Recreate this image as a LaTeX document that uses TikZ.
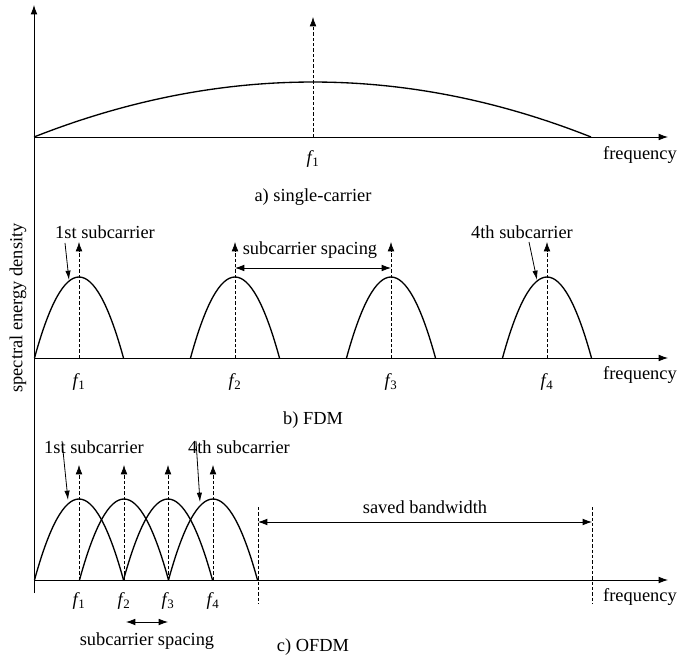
\documentclass[tikz,border=0pt]{standalone}
\usepackage{fontspec}
\setmainfont{Liberation Serif}
\usetikzlibrary{arrows.meta}
\newcommand\humpcurve[2]{\draw[curve] (#1,#2) .. controls ({#1+29.7},{#2-108}) and ({#1+59.3},{#2-108}) .. ({#1+89},#2);}
\newcommand\fl[1]{\textit{f}\kern-1.2pt\textsubscript{#1}}
\begin{document}
\begin{tikzpicture}[x=0.75pt,y=-0.75pt,
  axis/.style={line width=0.6pt,-{Latex[length=7pt,width=5pt]}},
  curve/.style={line width=1pt},
  carrier/.style={dashed,line width=0.5pt,dash pattern=on 2.5pt off 1.5pt,-{Latex[length=7pt,width=5pt]}},
  vline/.style={dashed,line width=0.5pt,dash pattern=on 2.5pt off 1.5pt},
  span/.style={line width=0.6pt,{Latex[length=7pt,width=5pt]}-{Latex[length=7pt,width=5pt]}},
  pointer/.style={line width=0.6pt,-{Latex[length=7pt,width=4pt]}},
  lbl/.style={inner sep=0pt,font=\fontsize{13.8}{16}\selectfont}]
\useasboundingbox (0,0) rectangle (678,655);
% vertical axis
\coordinate (vb) at (34,593);
\coordinate (vt) at (34,5);
\draw[axis] (vb) -- (vt);
\node[lbl,rotate=90] (ylab) at (18,308) {spectral energy density};
% ---------- a) single carrier
\coordinate (a0) at (34,137);
\coordinate (a1) at (668,137);
\draw[axis] (a0) -- (a1);
\draw[curve] (34,137) .. controls (220,63.7) and (406,63.7) .. (591,137);
\coordinate (af1) at (313,137);
\coordinate (af1t) at (313,17);
\draw[carrier] (af1) -- (af1t);
\node[lbl] (fa1) at (313,159) {\fl{1}};
\node[lbl] (freqa) at (640,155) {frequency};
\node[lbl] (capa) at (313,197) {a) single-carrier};
% ---------- b) FDM
\coordinate (b0) at (34,358);
\coordinate (b1) at (668,358);
\draw[axis] (b0) -- (b1);
\foreach \c/\n in {79/1,235/2,391/3,547/4}{
  \humpcurve{\c-44.5}{358}
  \coordinate (bf\n) at (\c,358);
  \coordinate (bt\n) at (\c,242);
  \draw[carrier] (bf\n) -- (bt\n);
  \node[lbl] (fb\n) at (\c,382) {\fl{\n}};
}
\node[lbl] (freqb) at (640,375) {frequency};
\node[lbl] (capb) at (313,420) {b) FDM};
\node[lbl] (b1st) at (105,232) {1st subcarrier};
\coordinate (b1p) at (69,280);
\draw[pointer] (65,243) -- (b1p);
\node[lbl] (b4th) at (522,232) {4th subcarrier};
\coordinate (b4p) at (537,280);
\draw[pointer] (529,242) -- (b4p);
\node[lbl] (bspc) at (310,250) {subcarrier spacing};
\coordinate (bs1) at (235,268);
\coordinate (bs2) at (391,268);
\draw[span] (bs1) -- (bs2);
% ---------- c) OFDM
\coordinate (c0) at (34,580);
\coordinate (c1) at (668,580);
\draw[axis] (c0) -- (c1);
\foreach \c/\n in {79/1,124/2,168/3,213/4}{
  \humpcurve{\c-44.5}{580}
  \coordinate (cf\n) at (\c,580);
  \coordinate (ct\n) at (\c,465);
  \draw[carrier] (cf\n) -- (ct\n);
  \node[lbl] (fc\n) at (\c,601) {\fl{\n}};
}
\coordinate (sv1t) at (258,507);
\coordinate (sv1b) at (258,604);
\coordinate (sv2t) at (592,507);
\coordinate (sv2b) at (592,604);
\draw[vline] (sv1t) -- (sv1b);
\draw[vline] (sv2t) -- (sv2b);
\draw[span] (258,522) -- (592,522);
\node[lbl] (saved) at (425,507) {saved bandwidth};
\node[lbl] (freqc) at (640,597) {frequency};
\node[lbl] (c1st) at (94,447) {1st subcarrier};
\coordinate (c1p) at (68,500);
\draw[pointer] (62,441) -- (c1p);
\node[lbl] (c4th) at (239,447) {4th subcarrier};
\coordinate (c4p) at (200,502);
\draw[pointer] (196,441) -- (c4p);
\coordinate (cs1) at (126,622);
\coordinate (cs2) at (168,622);
\draw[span] (cs1) -- (cs2);
\node[lbl] (cspc) at (147,641) {subcarrier spacing};
\node[lbl] (capc) at (313,647) {c) OFDM};
\end{tikzpicture}
\end{document}
